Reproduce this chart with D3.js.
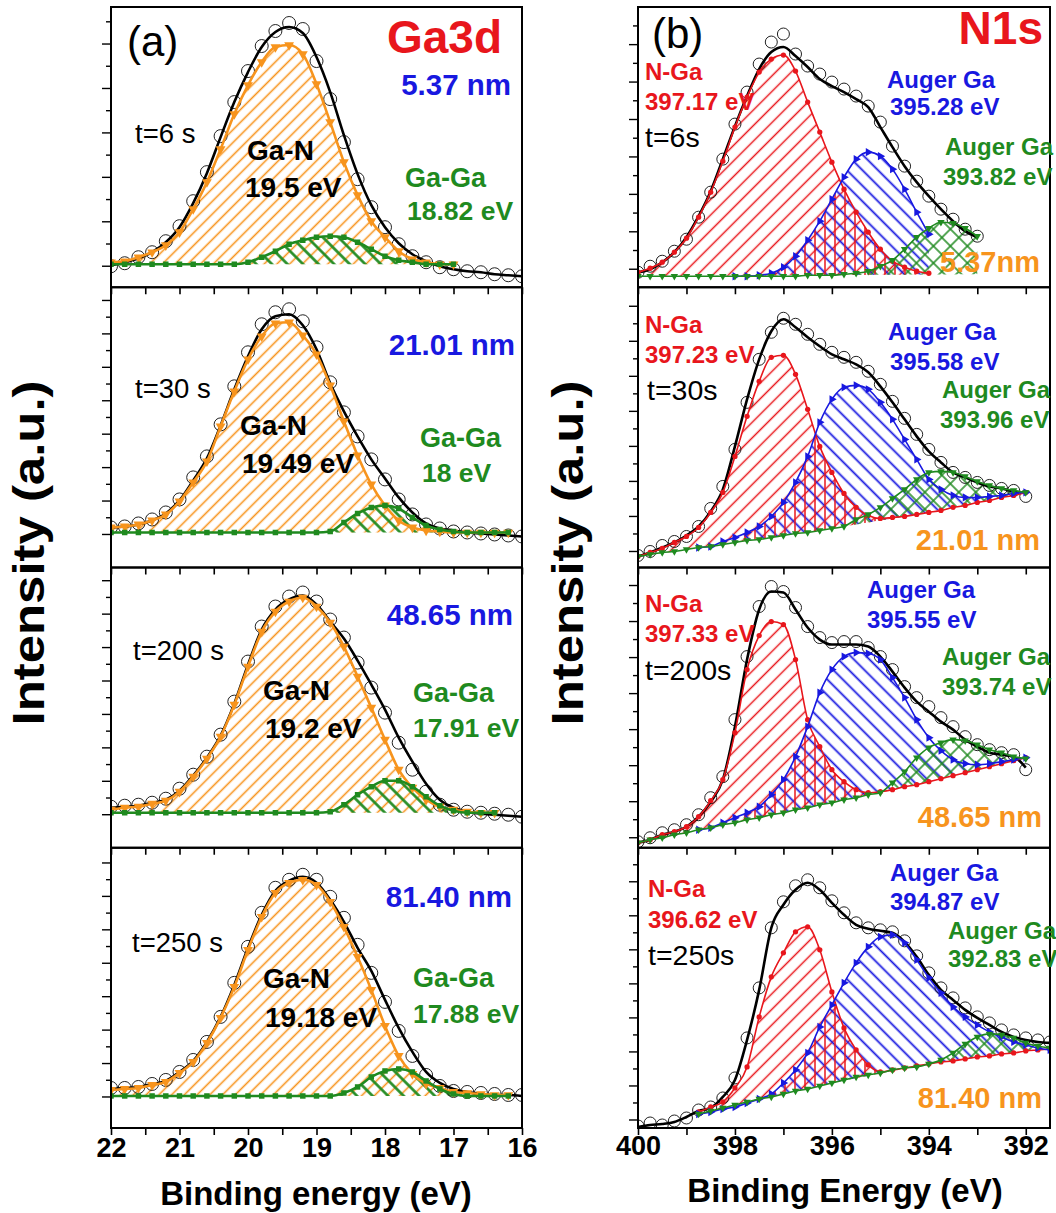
<!DOCTYPE html>
<html>
<head>
<meta charset="utf-8">
<script src="https://cdn.jsdelivr.net/npm/d3@7"></script>
<style>
  body { margin: 0; background: #fff; }
  text { font-family: "Liberation Sans", Arial, sans-serif; }
</style>
</head>
<body>
<svg id="chart" width="1056" height="1213"></svg>
<script>
// ---------- data (intensity in a.u., 0..280 per panel) ----------
var ga3dEnergy = [22.0,21.8,21.6,21.4,21.2,21.0,20.8,20.6,20.4,20.2,20.0,19.8,19.6,19.4,19.2,19.0,18.8,18.6,18.4,18.2,18.0,17.8,17.6,17.4,17.2,17.0,16.8,16.6,16.4,16.2,16.0];

var ga3dRaw6s   = [21,24,30,35,46,61,86,115,151,185,216,241,256,264,258,226,188,145,108,80,60,43,31,25,20,18,16,15,13,12,11];
var ga3dFit6s   = [22,25,29,35,45,60,84,114,150,185,215,240,255,260,254,230,195,152,113,82,60,44,33,26,21,18,16,15,13,12,11];
var ga3dGaN6s   = [25,26,30,35,42,55,78,105,138,173,202,225,240,242,233,203,165,125,92,66,50,36,28,25,23,23,null,null,null,null,null];
var ga3dGaGa6s  = [23,23,23,23,23,23,23,23,23,23,25,30,36,43,47,50,51,50,45,38,31,27,25,23,23,23,null,null,null,null,null];
var ga3dBg6s    = [[22,23],[16,23]];

var ga3dRaw30s  = [40,41,44,48,55,68,90,111,143,181,215,243,255,258,246,220,185,155,131,108,88,68,53,43,39,36,35,34,33,32,31];
var ga3dFit30s  = [40,41,43,47,54,67,87,109,142,178,211,238,251,253,242,218,184,156,131,108,89,70,55,44,39,37,35,34,33,32,31];
var ga3dGaN30s  = [40,41,43,47,53,66,85,106,141,176,208,231,244,245,232,213,182,146,112,83,62,47,40,37,36,35,35,35,35,35,null];
var ga3dGaGa30s = [35,35,35,35,35,35,35,35,35,35,35,35,35,35,35,35,36,45,54,60,62,59,50,42,38,36,35,35,35,35,null];
var ga3dBg30s   = [[22,35],[16,35]];

var ga3dRaw200s  = [41,42,43,45,49,59,73,91,113,146,186,221,241,251,255,246,228,210,185,160,135,105,78,56,43,38,36,35,34,33,31];
var ga3dFit200s  = [40,41,42,45,48,57,72,90,112,144,183,218,238,248,252,243,226,209,187,163,138,110,86,64,48,40,36,34,33,32,31];
var ga3dGaN200s  = [38,40,41,44,47,56,71,89,111,143,181,216,236,246,250,241,225,201,171,140,108,78,60,48,41,38,36,35,35,null,null];
var ga3dGaGa200s = [35,35,35,35,35,35,35,35,35,35,35,35,35,35,35,35,36,43,53,61,67,67,61,51,42,37,35,35,35,null,null];
var ga3dBg200s   = [[22,35],[16,35]];

var ga3dRaw250s  = [40,40,41,44,48,56,68,86,111,145,181,215,240,248,253,248,231,210,183,155,126,97,72,53,42,37,36,35,34,33,33];
var ga3dFit250s  = [39,40,41,44,47,56,67,86,111,143,180,213,237,247,251,245,228,206,180,157,128,100,76,56,45,39,36,34,33,33,32];
var ga3dGaN250s  = [38,39,40,43,46,55,66,85,110,141,178,211,235,245,248,243,226,201,171,138,102,72,54,44,40,36,35,34,33,33,null];
var ga3dGaGa250s = [32,32,32,32,32,32,32,32,32,32,32,32,32,32,32,32,32,35,41,51,57,59,56,47,39,34,32,32,32,32,null];
var ga3dBg250s   = [[22,32],[16,32]];

var n1sEnergy = [400,399.75,399.5,399.25,399,398.75,398.5,398.25,398,397.75,397.5,397.25,397,396.75,396.5,396.25,396,395.75,395.5,395.25,395,394.75,394.5,394.25,394,393.75,393.5,393.25,393,392.75,392.5,392.25,392,391.75,391.5];

var n1sRaw6s    = [15,21,26,36,48,70,95,128,163,195,223,245,253,233,221,213,205,198,191,181,165,141,121,106,91,78,68,58,51,null,null,null,null,null,null];
var n1sFit6s    = [15,18,25,35,50,71,96,128,161,191,218,235,240,231,220,208,201,195,188,180,160,140,121,105,91,78,66,56,50,null,null,null,null,null,null];
var n1sNGa6s    = [15,19,25,35,49,70,95,126,160,190,215,228,232,216,185,155,125,98,75,55,38,26,20,16,14,null,null,null,null,null,null,null,null,null,null];
var n1sAug1_6s  = [null,null,null,null,null,null,null,null,11,11,12,14,20,31,47,66,88,110,128,135,131,118,98,75,53,null,null,null,null,null,null,null,null,null,null];
var n1sAug2_6s  = [11,11,11,11,11,11,11,11,11,11,11,11,11,11,12,12,12,13,14,16,21,27,38,50,59,65,64,59,51,null,null,null,null,null,null];
var n1sBg6s     = [[400,11],[393,13]];

var n1sRaw30s   = [12,16,22,26,31,41,59,81,118,165,208,235,249,243,233,223,215,210,205,196,183,166,149,133,118,105,95,90,85,82,79,77,71,null,null];
var n1sFit30s   = [11,15,20,25,32,41,56,78,121,168,208,236,248,240,230,221,213,208,203,195,181,165,148,131,116,105,95,90,85,81,79,76,75,null,null];
var n1sNGa30s   = [11,15,19,25,31,40,55,75,111,151,186,210,212,193,158,121,95,74,60,52,49,50,51,53,55,57,60,62,65,67,70,72,75,null,null];
var n1sAug1_30s = [null,null,null,null,null,20,21,26,30,35,41,51,65,85,111,145,168,180,182,178,165,148,128,108,88,78,72,70,70,71,72,74,75,null,null];
var n1sAug2_30s = [11,13,15,16,18,20,21,23,25,27,28,30,32,34,35,37,39,41,48,53,60,69,78,88,95,96,95,91,86,82,79,77,75,null,null];
var n1sBg30s    = [[400,11],[398,25],[396,39],[394,55],[392,75]];

var n1sRaw200s   = [6,10,15,18,23,33,50,71,128,191,241,261,256,240,221,210,205,206,206,200,191,178,161,150,141,130,121,111,103,98,95,93,78,null,null];
var n1sFit200s   = [5,8,13,16,21,31,46,68,121,188,238,256,255,238,220,208,203,203,203,201,191,176,160,146,136,126,118,108,101,95,93,91,80,null,null];
var n1sNGa200s   = [5,8,13,16,21,31,47,68,115,178,212,226,223,188,128,101,78,66,58,55,56,58,61,63,66,69,72,75,78,81,84,87,90,null,null];
var n1sAug1_200s = [null,null,null,null,null,18,20,25,30,35,41,53,68,91,121,155,178,191,195,194,188,170,150,128,110,97,88,84,83,84,86,88,90,null,null];
var n1sAug2_200s = [5,8,10,13,15,18,20,23,25,28,30,33,35,38,40,43,45,48,50,53,55,65,76,90,100,105,108,107,103,98,95,91,89,null,null];
var n1sBg200s    = [[400,5],[398,25],[396,45],[394,66],[392,90]];

var n1sRaw250s   = [2,5,3,7,10,18,21,30,50,90,140,200,226,242,248,240,227,215,205,200,198,196,187,172,155,140,130,120,111,105,98,93,90,88,86];
var n1sFit250s   = [1,3,4,6,11,17,20,31,48,88,138,200,223,238,245,238,225,213,203,199,197,195,186,171,153,138,128,118,110,103,96,91,88,86,85];
var n1sNGa250s   = [null,null,null,null,null,16,21,26,40,61,111,151,175,196,201,178,136,100,78,63,56,58,60,62,64,66,67,69,71,72,74,75,77,78,79];
var n1sAug1_250s = [null,null,null,null,null,14,16,19,21,25,29,34,45,58,75,101,123,145,165,181,191,193,185,168,150,135,121,111,103,96,91,86,83,80,78];
var n1sAug2_250s = [null,null,null,null,null,14,17,20,23,26,29,31,34,37,39,42,45,48,51,53,55,58,60,61,64,68,75,84,91,94,93,90,85,82,80];
var n1sBg250s    = [[398.86,13],[398,23],[396,45],[394,64],[392,77],[391.5,79]];

// labels
var ga3dTimes      = ["t=6 s", "t=30 s", "t=200 s", "t=250 s"];
var ga3dThickness  = ["5.37 nm", "21.01 nm", "48.65 nm", "81.40 nm"];
var gaNPeaks       = ["19.5 eV", "19.49 eV", "19.2 eV", "19.18 eV"];
var gaGaPeaks      = ["18.82 eV", "18 eV", "17.91 eV", "17.88 eV"];
var n1sTimes       = ["t=6s", "t=30s", "t=200s", "t=250s"];
var n1sThickness   = ["5.37nm", "21.01 nm", "48.65 nm", "81.40 nm"];
var nGaPeaks       = ["397.17 eV", "397.23 eV", "397.33 eV", "396.62 eV"];
var auger1Peaks    = ["395.28 eV", "395.58 eV", "395.55 eV", "394.87 eV"];
var auger2Peaks    = ["393.82 eV", "393.96 eV", "393.74 eV", "392.83 eV"];
var ga3dTicks = [22, 21, 20, 19, 18, 17, 16];
var n1sTicks  = [400, 398, 396, 394, 392];

// ---------- layout ----------
var ORANGE = "#f7941d", GREEN = "#1f8a1f", RED = "#e8161c", BLUE = "#1818e0";
var panelH = 280.25;
var panelTop = function(k) { return 7 + k * panelH; };

var svg = d3.select("#chart");
var defs = svg.append("defs");

var xLeft = d3.scaleLinear().domain([22, 16]).range([111, 522]);
var xRight = d3.scaleLinear().domain([400, 391.5]).range([638, 1050]);

function addHatch(id, color, sw, gap, angle, cross) {
  var p = defs.append("pattern")
    .attr("id", id)
    .attr("patternUnits", "userSpaceOnUse")
    .attr("width", gap).attr("height", gap)
    .attr("patternTransform", "rotate(" + angle + ")");
  p.append("line").attr("x1", gap / 2).attr("y1", -1).attr("x2", gap / 2).attr("y2", gap + 1)
    .attr("stroke", color).attr("stroke-width", sw);
  if (cross) {
    p.append("line").attr("x1", -1).attr("y1", gap / 2).attr("x2", gap + 1).attr("y2", gap / 2)
      .attr("stroke", color).attr("stroke-width", sw);
  }
}
addHatch("hOrange", ORANGE, 1.6, 9, 45, false);
addHatch("hGreenL", GREEN, 2.6, 11, -45, false);
addHatch("hRed", RED, 1.5, 11, 45, false);
addHatch("hBlue", BLUE, 1.8, 11, -45, false);
addHatch("hGreenX", GREEN, 1.5, 12, 45, true);
addHatch("hRedV", RED, 1.5, 10, 0, false);

var ga3dPanels = [
  { raw: ga3dRaw6s, fit: ga3dFit6s, c1: ga3dGaN6s, c2: ga3dGaGa6s, bg: ga3dBg6s, ytick: [21, 22.2],
    lab: { th: [511, 95], t: [135, 143], n: [247, 160], ne: [245, 197], g: [405, 187], ge: [407, 220] } },
  { raw: ga3dRaw30s, fit: ga3dFit30s, c1: ga3dGaN30s, c2: ga3dGaGa30s, bg: ga3dBg30s, ytick: [33, 16.7],
    lab: { th: [515, 355], t: [135, 398], n: [240, 435], ne: [242, 473], g: [420, 447], ge: [422, 482] } },
  { raw: ga3dRaw200s, fit: ga3dFit200s, c1: ga3dGaN200s, c2: ga3dGaGa200s, bg: ga3dBg200s, ytick: [33, 16.7],
    lab: { th: [513, 625], t: [133, 660], n: [263, 700], ne: [265, 738], g: [413, 702], ge: [413, 737] } },
  { raw: ga3dRaw250s, fit: ga3dFit250s, c1: ga3dGaN250s, c2: ga3dGaGa250s, bg: ga3dBg250s, ytick: [31, 16.7],
    lab: { th: [512, 907], t: [132, 952], n: [263, 988], ne: [265, 1027], g: [413, 987], ge: [413, 1023] } }
];

var n1sPanels = [
  { raw: n1sRaw6s, fit: n1sFit6s, c1: n1sNGa6s, c2: n1sAug1_6s, c3: n1sAug2_6s, bg: n1sBg6s, ytick: [18, 18.7],
    lab: { n: [645, 80], ne: [645, 110], t: [645, 147], a: [887, 88], ae: [890, 115], b: [945, 155], be: [943, 185], th: [1040, 272] } },
  { raw: n1sRaw30s, fit: n1sFit30s, c1: n1sNGa30s, c2: n1sAug1_30s, c3: n1sAug2_30s, bg: n1sBg30s, ytick: [16, 17.5],
    lab: { n: [645, 333], ne: [645, 363], t: [647, 400], a: [888, 340], ae: [890, 370], b: [942, 398], be: [940, 428], th: [1040, 550] } },
  { raw: n1sRaw200s, fit: n1sFit200s, c1: n1sNGa200s, c2: n1sAug1_200s, c3: n1sAug2_200s, bg: n1sBg200s, ytick: [10, 18],
    lab: { n: [645, 612], ne: [645, 642], t: [645, 680], a: [867, 598], ae: [867, 628], b: [942, 665], be: [942, 695], th: [1042, 827] } },
  { raw: n1sRaw250s, fit: n1sFit250s, c1: n1sNGa250s, c2: n1sAug1_250s, c3: n1sAug2_250s, bg: n1sBg250s, ytick: [8, 17],
    lab: { n: [648, 897], ne: [648, 928], t: [648, 965], a: [890, 881], ae: [890, 910], b: [948, 939], be: [948, 967], th: [1042, 1108] } }
];

function pts(energy, vals) {
  return energy.map(function(e, i) { return [e, vals[i]]; });
}

function addText(x, y, txt, size, weight, color, anchor) {
  return svg.append("text")
    .attr("x", x).attr("y", y)
    .attr("font-size", size + "px")
    .attr("font-weight", weight)
    .attr("fill", color)
    .attr("text-anchor", anchor || "start")
    .text(txt);
}

function drawMarkers(g, x, y, data, symbol, size, color, rot) {
  var sym = d3.symbol().type(symbol).size(size)();
  g.selectAll(null)
    .data(data.filter(function(d) { return d[1] != null; }))
    .enter().append("path")
    .attr("d", sym)
    .attr("transform", function(d) { return "translate(" + x(d[0]) + "," + y(d[1]) + ") rotate(" + rot + ")"; })
    .attr("fill", color);
}

function drawPanel(k, x, energy, p, comps, tickVals, isLeft) {
  var top = panelTop(k), bottom = top + panelH;
  var x0 = x.range()[0], x1 = x.range()[1];
  var y = d3.scaleLinear().domain([0, 280]).range([bottom, top]);
  var bgScale = d3.scaleLinear().domain(p.bg.map(function(d) { return d[0]; })).range(p.bg.map(function(d) { return d[1]; }));

  var clipId = (isLeft ? "clipL" : "clipR") + k;
  defs.append("clipPath").attr("id", clipId)
    .append("rect").attr("x", x0).attr("y", top).attr("width", x1 - x0).attr("height", panelH);

  var g = svg.append("g").attr("clip-path", "url(#" + clipId + ")");

  var area = d3.area()
    .defined(function(d) { return d[1] != null; })
    .x(function(d) { return x(d[0]); })
    .y0(function(d) { return y(bgScale(d[0])); })
    .y1(function(d) { return y(d[1]); })
    .curve(d3.curveMonotoneX);
  var line = d3.line()
    .defined(function(d) { return d[1] != null; })
    .x(function(d) { return x(d[0]); })
    .y(function(d) { return y(d[1]); })
    .curve(d3.curveMonotoneX);

  // hatched fills
  comps.forEach(function(c) {
    g.append("path").attr("d", area(pts(energy, c.vals))).attr("fill", "url(#" + c.hatch + ")");
  });
  if (!isLeft) {
    // red vertical hatch where N-Ga and Auger Ga overlap
    var rcId = "redArea" + k;
    defs.append("clipPath").attr("id", rcId)
      .append("path").attr("d", area(pts(energy, comps[0].vals)));
    g.append("g").attr("clip-path", "url(#" + rcId + ")")
      .append("path").attr("d", area(pts(energy, comps[1].vals))).attr("fill", "url(#hRedV)");
  }

  // raw data circles
  g.selectAll(null)
    .data(pts(energy, p.raw).filter(function(d) { return d[1] != null; }))
    .enter().append("circle")
    .attr("cx", function(d) { return x(d[0]); })
    .attr("cy", function(d) { return y(d[1]); })
    .attr("r", isLeft ? 6.5 : 6)
    .attr("fill", "none")
    .attr("stroke", "#222")
    .attr("stroke-width", 1);

  // envelope fit
  g.append("path").attr("d", line(pts(energy, p.fit)))
    .attr("fill", "none").attr("stroke", "#000").attr("stroke-width", 2.6);

  // component lines with markers
  comps.forEach(function(c) {
    var d = pts(energy, c.vals);
    g.append("path").attr("d", line(d))
      .attr("fill", "none").attr("stroke", c.color).attr("stroke-width", c.lw);
    drawMarkers(g, x, y, d, c.symbol, c.size, c.color, c.rot);
  });

  // frame
  svg.append("rect").attr("x", x0).attr("y", top).attr("width", x1 - x0).attr("height", panelH)
    .attr("fill", "none").attr("stroke", "#000").attr("stroke-width", 2);

  // x ticks pointing down from panel bottom
  var xAxis = d3.axisBottom(x).tickValues(tickVals).tickSize(7).tickSizeOuter(0).tickFormat("");
  var ax = svg.append("g").attr("transform", "translate(0," + bottom + ")").call(xAxis);
  ax.select(".domain").remove();
  ax.selectAll("line").attr("stroke-width", 1.6);

  // y ticks (outward, alternating length)
  var yv = d3.range(p.ytick[0], 276, p.ytick[1]);
  svg.selectAll(null).data(yv).enter().append("line")
    .attr("x1", x0).attr("x2", function(d, i) { return x0 - (i % 2 === 0 ? 9 : 5); })
    .attr("y1", function(d) { return y(d); }).attr("y2", function(d) { return y(d); })
    .attr("stroke", "#000").attr("stroke-width", 1.4);
}

// ---------- left column: Ga3d ----------
var ga3dMinor = d3.range(16, 22.01, 0.5);
ga3dPanels.forEach(function(p, k) {
  drawPanel(k, xLeft, ga3dEnergy, p, [
    { vals: p.c1, hatch: "hOrange", color: ORANGE, lw: 2.6, symbol: d3.symbolTriangle, size: 42, rot: 180 },
    { vals: p.c2, hatch: "hGreenL", color: GREEN, lw: 2.6, symbol: d3.symbolSquare, size: 30, rot: 0 }
  ], ga3dMinor, true);
  var L = p.lab;
  addText(L.th[0], L.th[1], ga3dThickness[k], 29.5, "bold", BLUE, "end");
  addText(L.t[0], L.t[1], ga3dTimes[k], 27.5, "normal", "#000");
  addText(L.n[0], L.n[1], "Ga-N", 28, "bold", "#000");
  addText(L.ne[0], L.ne[1], gaNPeaks[k], 28, "bold", "#000");
  addText(L.g[0], L.g[1], "Ga-Ga", 27, "bold", GREEN);
  addText(L.ge[0], L.ge[1], gaGaPeaks[k], 26.5, "bold", GREEN);
});

// ---------- right column: N1s ----------
var n1sMinor = d3.range(392, 400.01, 1);
n1sPanels.forEach(function(p, k) {
  drawPanel(k, xRight, n1sEnergy, p, [
    { vals: p.c1, hatch: "hRed", color: RED, lw: 1.6, symbol: d3.symbolCircle, size: 22, rot: 0 },
    { vals: p.c2, hatch: "hBlue", color: BLUE, lw: 1.6, symbol: d3.symbolTriangle, size: 30, rot: 90 },
    { vals: p.c3, hatch: "hGreenX", color: GREEN, lw: 1.6, symbol: d3.symbolTriangle, size: 24, rot: 180 }
  ], n1sMinor, false);
  var L = p.lab;
  addText(L.n[0], L.n[1], "N-Ga", 24, "bold", RED);
  addText(L.ne[0], L.ne[1], nGaPeaks[k], 24, "bold", RED);
  addText(L.t[0], L.t[1], n1sTimes[k], 28.5, "normal", "#000");
  addText(L.a[0], L.a[1], "Auger Ga", 24, "bold", BLUE);
  addText(L.ae[0], L.ae[1], auger1Peaks[k], 24, "bold", BLUE);
  addText(L.b[0], L.b[1], "Auger Ga", 24, "bold", GREEN);
  addText(L.be[0], L.be[1], auger2Peaks[k], 24, "bold", GREEN);
  addText(L.th[0], L.th[1], n1sThickness[k], 29, "bold", ORANGE, "end");
});

// panel titles
addText(127, 56, "(a)", 42, "normal", "#000");
addText(387, 53, "Ga3d", 46, "bold", RED);
addText(652, 48, "(b)", 42, "normal", "#000");
addText(1043, 44, "N1s", 46, "bold", RED, "end");

// bottom tick labels
var bottomY = panelTop(4);
var axL = svg.append("g").attr("transform", "translate(0," + bottomY + ")")
  .call(d3.axisBottom(xLeft).tickValues(ga3dTicks).tickSize(0).tickPadding(10).tickFormat(d3.format("d")));
axL.select(".domain").remove();
axL.selectAll("text").attr("font-size", "27px").attr("font-weight", "bold").attr("fill", "#000")
  .style("font-family", "'Liberation Sans', Arial, sans-serif");
var axR = svg.append("g").attr("transform", "translate(0," + bottomY + ")")
  .call(d3.axisBottom(xRight).tickValues(n1sTicks).tickSize(0).tickPadding(8).tickFormat(d3.format("d")));
axR.select(".domain").remove();
axR.selectAll("text").attr("font-size", "27px").attr("font-weight", "bold").attr("fill", "#000")
  .style("font-family", "'Liberation Sans', Arial, sans-serif");

// axis titles
addText(316, 1205, "Binding energy (eV)", 33, "bold", "#000", "middle");
addText(845, 1202, "Binding Energy (eV)", 33, "bold", "#000", "middle");
svg.append("text").attr("transform", "translate(44,553) rotate(-90)")
  .attr("text-anchor", "middle").attr("font-size", "44px").attr("font-weight", "bold")
  .attr("textLength", 345).attr("lengthAdjust", "spacingAndGlyphs")
  .text("Intensity (a.u.)");
svg.append("text").attr("transform", "translate(583,553) rotate(-90)")
  .attr("text-anchor", "middle").attr("font-size", "44px").attr("font-weight", "bold")
  .attr("textLength", 345).attr("lengthAdjust", "spacingAndGlyphs")
  .text("Intensity (a.u.)");
</script>
</body>
</html>
